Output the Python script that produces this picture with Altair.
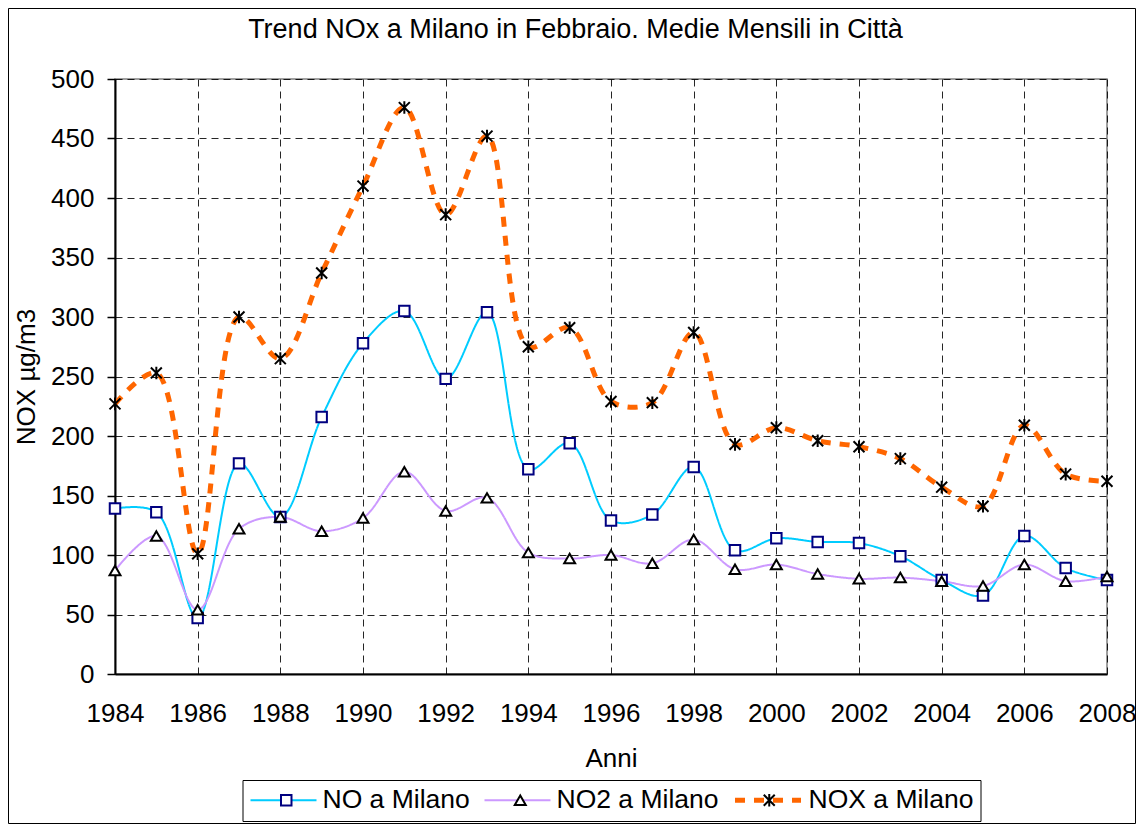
import altair as alt
import pandas as pd

years = list(range(1984, 2009))
no_vals = [139, 136, 47, 177, 132, 216, 278, 305, 248, 304, 172, 194, 129, 134, 174,
           104, 114, 111, 110, 99, 79, 66, 116, 89, 79]
no2_vals = [87, 116, 54, 122, 132, 120, 131, 170, 137, 148, 102, 97, 100, 93, 113,
            88, 92, 84, 80, 81, 78, 74, 92, 78, 82]
nox_vals = [227, 253, 101, 300, 265, 337, 410, 476, 386, 452, 275, 291, 229, 228, 287,
            193, 207, 196, 191, 181, 157, 141, 209, 168, 162]

series_names = ["NO a Milano", "NO2 a Milano", "NOX a Milano"]
line_colors = ["#00CCFF", "#CC99FF", "#FF6600"]
line_widths = [2, 2, 5]
line_dashes = [[1, 0], [1, 0], [10, 9]]
marker_strokes = ["#000080", "#000000", "#000000"]
marker_shapes = ["square", "triangle-up", "M-1,-1L1,1M-1,1L1,-1M0,-1.15L0,1.15"]
marker_sizes = [110, 120, 120]
x_ticks = list(range(1984, 2009, 2))
y_ticks = list(range(0, 501, 50))
title_text = "Trend NOx a Milano in Febbraio. Medie Mensili in Città"

rows = []
for name, vals in zip(series_names, [no_vals, no2_vals, nox_vals]):
    for yr, v in zip(years, vals):
        rows.append({"year": yr, "value": v, "series": name, "marker": name})
df = pd.DataFrame(rows)

FONT = "Liberation Sans"
LEG_X = 127.5
LEG_Y = 701

x_enc = alt.X("year:Q",
              scale=alt.Scale(domain=[1984, 2008], nice=False, zero=False),
              axis=alt.Axis(title="Anni", values=x_ticks, format="d", ticks=False,
                            labelPadding=26, titlePadding=19, labelFlush=False,
                            labelOverlap=False))
y_enc = alt.Y("value:Q",
              scale=alt.Scale(domain=[0, 500], nice=False),
              axis=alt.Axis(title="NOX µg/m3", values=y_ticks, tickSize=8,
                            labelPadding=13, titlePadding=11))

line_legend = alt.Legend(title=None, orient="none", direction="horizontal",
                         legendX=LEG_X, legendY=LEG_Y, symbolType="stroke",
                         symbolSize=4356, clipHeight=26, labelOffset=5,
                         columnPadding=13, padding=7, strokeColor="black")

lines = alt.Chart(df).mark_line(interpolate="catmull-rom").encode(
    x=x_enc,
    y=y_enc,
    color=alt.Color("series:N", scale=alt.Scale(domain=series_names, range=line_colors),
                    legend=line_legend),
    strokeDash=alt.StrokeDash("series:N", scale=alt.Scale(domain=series_names, range=line_dashes),
                              legend=line_legend),
    strokeWidth=alt.StrokeWidth("series:N",
                                scale=alt.Scale(type="ordinal", domain=series_names, range=line_widths),
                                legend=line_legend),
)

marker_legend = alt.Legend(title=None, orient="none", direction="horizontal",
                           legendX=LEG_X, legendY=LEG_Y, clipHeight=26,
                           symbolOffset=23.5, labelOffset=23.5, labelOpacity=0,
                           columnPadding=13, padding=7, symbolStrokeWidth=2)

points = alt.Chart(df).mark_point(filled=False, fill="white", fillOpacity=1, strokeWidth=2, opacity=1).encode(
    x="year:Q",
    y="value:Q",
    shape=alt.Shape("marker:N", scale=alt.Scale(range=marker_shapes), legend=marker_legend),
    stroke=alt.Stroke("marker:N", scale=alt.Scale(range=marker_strokes), legend=marker_legend),
    size=alt.Size("marker:N", scale=alt.Scale(type="ordinal", range=marker_sizes), legend=marker_legend),
)

frame = alt.Chart(pd.DataFrame({"k": [0]})).mark_rect(fillOpacity=0, stroke="black", strokeWidth=1).encode(
    x=alt.value(-106.5), x2=alt.value(1020.5), y=alt.value(-70.5), y2=alt.value(744.5)
)

title = alt.Chart(pd.DataFrame({"t": [title_text]})).mark_text(
    font=FONT, fontSize=27, color="black", align="center", baseline="alphabetic"
).encode(text="t:N", x=alt.value(460.5), y=alt.value(-41))

chart = alt.layer(frame, title, lines, points).properties(
    width=992,
    height=595,
    autosize=alt.AutoSizeParams(type="none"),
    padding={"left": 107, "top": 71, "right": 29, "bottom": 150},
).configure_view(
    stroke="#808080", strokeWidth=1.5
).configure_axis(
    labelFont=FONT, titleFont=FONT, labelFontSize=26, titleFontSize=26,
    titleFontWeight="normal", labelColor="black", titleColor="black",
    domainColor="black", domainWidth=2, tickColor="black", tickWidth=1.5,
    grid=True, gridColor="#000000", gridOpacity=0.85, gridDash=[7, 5], gridWidth=1,
).configure_legend(
    labelFont=FONT, labelFontSize=26.5, labelColor="black", labelLimit=400,
)

chart.save("out.html", embed_options={"renderer": "svg", "actions": False})
